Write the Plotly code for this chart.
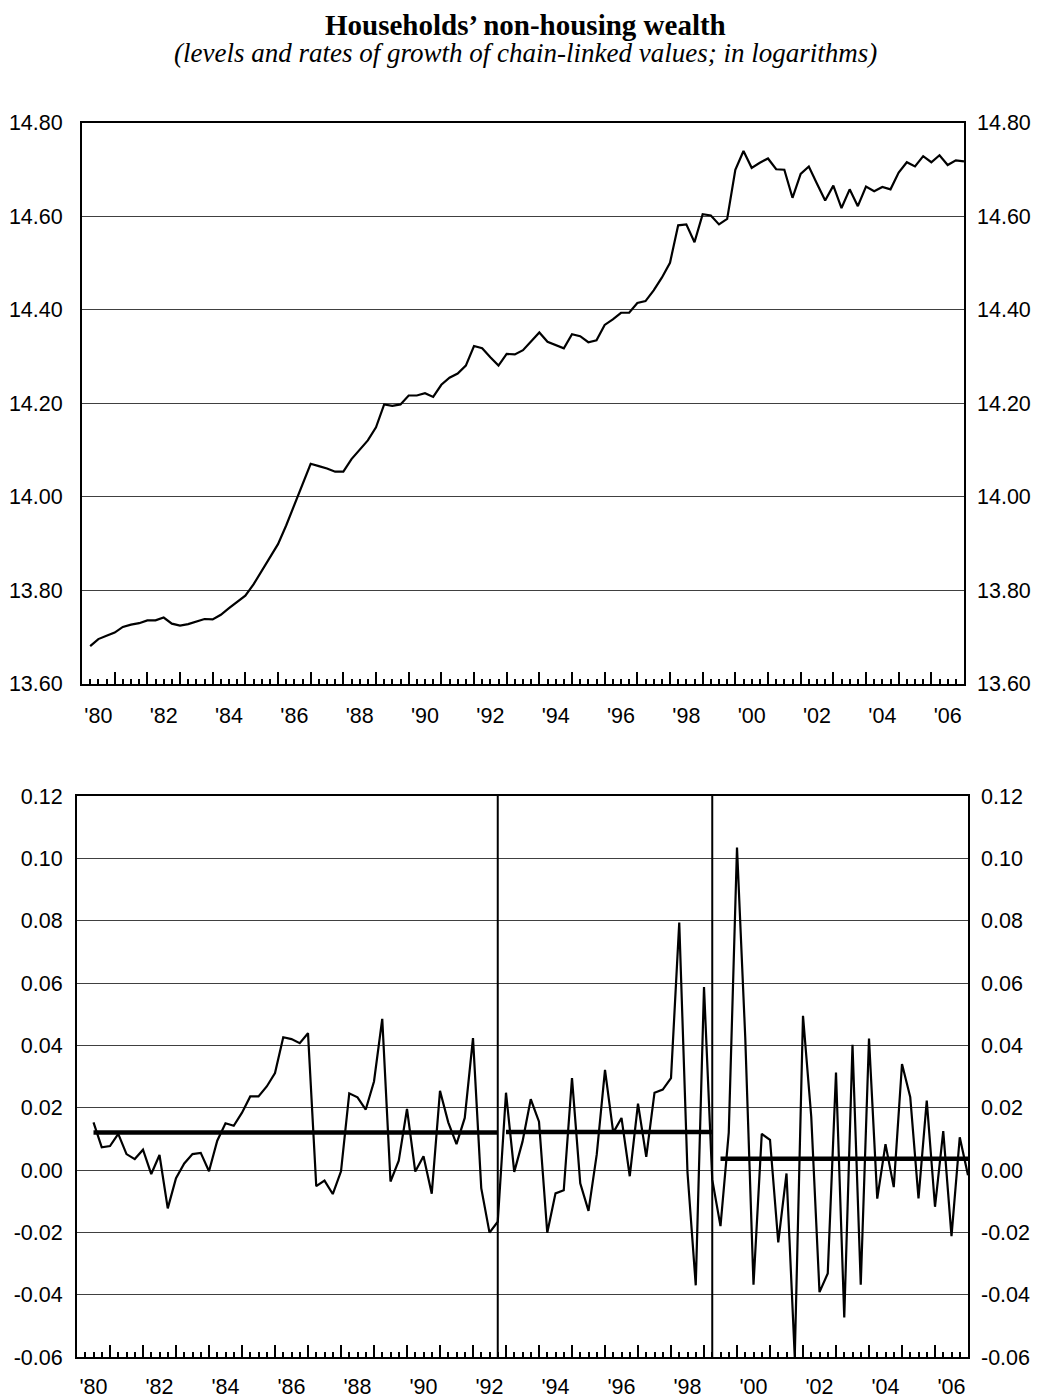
import plotly.graph_objects as go

# ---------------- data ----------------
title_text = "Households\u2019 non-housing wealth"
subtitle_text = "(levels and rates of growth of chain-linked values; in logarithms)"

# quarterly log levels, 1980Q1 .. 2006Q4
levels = [13.680, 13.695, 13.702, 13.709, 13.721, 13.726, 13.729, 13.735, 13.735, 13.741,
          13.728, 13.724, 13.727, 13.732, 13.738, 13.737, 13.747, 13.761, 13.774, 13.788,
          13.812, 13.840, 13.869, 13.898, 13.938, 13.982, 14.028, 14.070, 14.065, 14.060,
          14.053, 14.053, 14.080, 14.101, 14.120, 14.148, 14.197, 14.194, 14.197, 14.216,
          14.216, 14.221, 14.213, 14.239, 14.254, 14.263, 14.280, 14.322, 14.317, 14.298,
          14.280, 14.305, 14.304, 14.313, 14.332, 14.351, 14.331, 14.324, 14.317, 14.347,
          14.343, 14.330, 14.334, 14.367, 14.379, 14.393, 14.393, 14.414, 14.418, 14.441,
          14.468, 14.500, 14.580, 14.582, 14.544, 14.604, 14.601, 14.582, 14.594, 14.699,
          14.739, 14.703, 14.714, 14.723, 14.700, 14.699, 14.639, 14.690, 14.706, 14.669,
          14.633, 14.665, 14.617, 14.657, 14.621, 14.663, 14.653, 14.662, 14.657, 14.693,
          14.715, 14.706, 14.728, 14.715, 14.730, 14.709, 14.719, 14.717]

# quarterly log growth rates, 1980Q2 .. 2006Q4
growth = [0.0153, 0.0073, 0.0077, 0.0116, 0.0051, 0.0035, 0.0065, -0.0013, 0.0048, -0.0123,
          -0.0026, 0.0021, 0.0051, 0.0055, -0.0004, 0.0094, 0.0150, 0.0142, 0.0184, 0.0236,
          0.0236, 0.0268, 0.0311, 0.0426, 0.0420, 0.0407, 0.0439, -0.0052, -0.0034, -0.0077,
          -0.0004, 0.0246, 0.0233, 0.0194, 0.0284, 0.0485, -0.0037, 0.0030, 0.0196, -0.0005,
          0.0044, -0.0076, 0.0254, 0.0153, 0.0083, 0.0167, 0.0423, -0.0058, -0.0201, -0.0166,
          0.0248, -0.0006, 0.0091, 0.0227, 0.0155, -0.0201, -0.0075, -0.0065, 0.0295, -0.0043,
          -0.0131, 0.0050, 0.0321, 0.0120, 0.0167, -0.0020, 0.0213, 0.0042, 0.0248, 0.0258,
          0.0295, 0.0794, -0.0008, -0.0370, 0.0587, -0.0031, -0.0180, 0.0120, 0.1035, 0.0425,
          -0.0368, 0.0116, 0.0097, -0.0232, -0.0011, -0.0600, 0.0495, 0.0171, -0.0392, -0.0332,
          0.0313, -0.0473, 0.0402, -0.0368, 0.0422, -0.0092, 0.0083, -0.0055, 0.0340, 0.0234,
          -0.0091, 0.0223, -0.0118, 0.0125, -0.0212, 0.0105, -0.0017]

# sub-period averages of the growth rate (start index, end index, mean)
period_start = [2, 52, 78]
period_end = [51, 77, 108]
period_mean = [0.0120, 0.0122, 0.0036]
break_points = [51, 77]

year_labels = ["'80", "'82", "'84", "'86", "'88", "'90", "'92", "'94",
               "'96", "'98", "'00", "'02", "'04", "'06"]
level_ticks = [13.60, 13.80, 14.00, 14.20, 14.40, 14.60, 14.80]
level_ticktext = ["13.60", "13.80", "14.00", "14.20", "14.40", "14.60", "14.80"]
growth_ticks = [-0.06, -0.04, -0.02, 0.00, 0.02, 0.04, 0.06, 0.08, 0.10, 0.12]
growth_ticktext = ["-0.06", "-0.04", "-0.02", "0.00", "0.02", "0.04", "0.06", "0.08", "0.10", "0.12"]

# ---------------- positions on the category axis ----------------
n_cat = 108
x_levels = list(range(1, len(levels) + 1))
x_growth = list(range(n_cat - len(growth) + 1, n_cat + 1))
label_pos = [2 + 8 * k for k in range(len(year_labels))]
major_ticks = list(range(0, n_cat + 1, 4))

# the page body adds an 8px margin, so the figure is sized to the rest of the window
PAGE_W, PAGE_H, BODY = 1043, 1399, 8
W, H = PAGE_W - BODY, PAGE_H - BODY
FONT = "Liberation Sans"
grid_col = "#404040"


def px_x(a, b):
    return [(a - BODY) / W, (b - BODY) / W]


def px_y(top, bottom):
    return [1 - (bottom - BODY) / H, 1 - (top - BODY) / H]


def py(y):
    return 1 - (y - BODY) / H


fig = go.Figure()

fig.add_trace(go.Scatter(x=x_levels, y=levels, mode="lines",
                         line=dict(color="black", width=2.2),
                         xaxis="x", yaxis="y", hoverinfo="skip"))

for s, e, m in zip(period_start, period_end, period_mean):
    fig.add_trace(go.Scatter(x=[s, e], y=[m, m], mode="lines",
                             line=dict(color="black", width=4.5),
                             xaxis="x2", yaxis="y2", hoverinfo="skip"))

for b in break_points:
    fig.add_trace(go.Scatter(x=[b, b], y=[growth_ticks[0], growth_ticks[-1]], mode="lines",
                             line=dict(color="black", width=2),
                             xaxis="x2", yaxis="y2", hoverinfo="skip"))

fig.add_trace(go.Scatter(x=x_growth, y=growth, mode="lines",
                         line=dict(color="black", width=2.2),
                         xaxis="x2", yaxis="y2", hoverinfo="skip"))

# invisible helper traces so that the overlay (label) axes get drawn
for xa, ya, xs, ys in [("x3", "y", x_levels, levels), ("x", "y3", x_levels, levels),
                       ("x4", "y2", x_growth, growth), ("x2", "y4", x_growth, growth)]:
    fig.add_trace(go.Scatter(x=[xs[0]], y=[ys[0]], mode="markers",
                             marker=dict(opacity=0, size=1),
                             xaxis=xa, yaxis=ya, hoverinfo="skip"))

tickfont = dict(family=FONT, size=21.5, color="black")

frame = dict(showline=True, linecolor="black", linewidth=2, mirror=True, zeroline=False,
             automargin=False)


def main_x(domain, anchor):
    return dict(domain=domain, anchor=anchor, range=[0, n_cat], tickmode="array",
                tickvals=major_ticks, ticks="inside", ticklen=12, tickwidth=1.5,
                tickcolor="black", showticklabels=False, showgrid=False,
                minor=dict(ticks="inside", ticklen=5, tickwidth=1.5, tickcolor="black",
                           dtick=1, tick0=0, showgrid=False),
                **frame)


def label_x(over, anchor, standoff):
    return dict(overlaying=over, anchor=anchor, range=[0, n_cat], tickmode="array",
                tickvals=label_pos, ticktext=year_labels, ticks="", showgrid=False,
                showline=False, zeroline=False, tickfont=tickfont, ticklabelstandoff=standoff,
                automargin=False)


def main_y(domain, anchor, rng, tv, tt, standoff):
    return dict(domain=domain, anchor=anchor, range=rng, tickmode="array",
                tickvals=tv, ticktext=tt, ticks="", showgrid=True, gridcolor=grid_col,
                gridwidth=1, tickfont=tickfont, ticklabelstandoff=standoff, **frame)


def right_y(over, anchor, rng, tv, tt):
    return dict(overlaying=over, anchor=anchor, side="right", range=rng, tickmode="array",
                tickvals=tv, ticktext=tt, ticks="", showgrid=False, showline=False,
                zeroline=False, tickfont=tickfont, ticklabelstandoff=12, automargin=False)


lev_rng = [level_ticks[0], level_ticks[-1]]
gr_rng = [growth_ticks[0], growth_ticks[-1]]

fig.update_layout(
    width=W, height=H,
    margin=dict(l=0, r=0, t=0, b=0, autoexpand=False),
    paper_bgcolor="white", plot_bgcolor="white",
    showlegend=False,
    xaxis=main_x(px_x(82, 964), "y"),
    yaxis=main_y(px_y(122.5, 683.5), "x", lev_rng, level_ticks, level_ticktext, 13),
    xaxis3=label_x("x", "y", 17),
    yaxis3=right_y("y", "x", lev_rng, level_ticks, level_ticktext),
    xaxis2=main_x(px_x(77, 968), "y2"),
    yaxis2=main_y(px_y(796, 1357), "x2", gr_rng, growth_ticks, growth_ticktext, 8),
    xaxis4=label_x("x2", "y2", 14),
    yaxis4=right_y("y2", "x2", gr_rng, growth_ticks, growth_ticktext),
    annotations=[
        dict(text="<b>" + title_text + "</b>", x=0.5, y=py(25), xref="paper", yref="paper",
             xanchor="center", yanchor="middle", showarrow=False,
             font=dict(family="Liberation Serif", size=29, color="black")),
        dict(text="<i>" + subtitle_text + "</i>", x=0.5, y=py(53), xref="paper", yref="paper",
             xanchor="center", yanchor="middle", showarrow=False,
             font=dict(family="Liberation Serif", size=27, color="black")),
    ],
)

fig.write_html("out.html")
